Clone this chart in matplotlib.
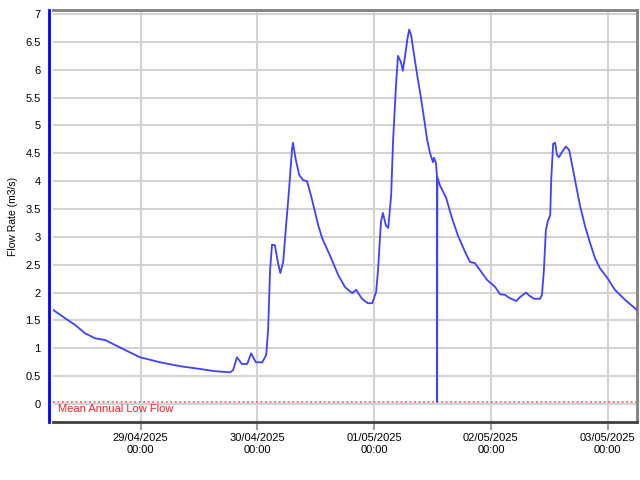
import matplotlib

matplotlib.use("Agg")
import matplotlib.dates as mdates
import matplotlib.pyplot as plt
import pandas as pd

START = pd.Timestamp("2025-04-28 06:00")
END = pd.Timestamp("2025-05-03 06:00")

# hours since START, flow rate (m3/s)
HOURS = [
    0.0, 2.47, 4.52, 6.58, 8.63, 10.69, 12.74, 14.8, 17.88, 21.99, 26.1, 30.2,
    33.3, 36.4, 37.0, 37.8, 38.8, 39.9, 40.7, 41.7, 43.0, 43.8, 44.2, 44.6,
    45.0, 45.6, 46.2, 46.7, 47.3, 47.9, 48.5, 49.1, 49.3, 49.9, 50.6, 51.4,
    52.2, 53.0, 54.5, 55.3, 56.9, 58.6, 60.0, 61.5, 62.3, 63.5, 64.7, 65.6,
    66.4, 66.8, 67.4, 67.8, 68.4, 68.9, 69.5, 69.9, 70.5, 70.9, 71.5, 71.9,
    72.4, 72.8, 73.2, 73.6, 74.2, 75.0, 75.6, 76.3, 76.9, 77.5, 78.1, 78.3,
    78.7, 78.9, 78.95, 79.0, 79.5, 80.8, 82.0, 83.2, 84.7, 85.7, 86.7, 87.8,
    89.2, 90.9, 91.9, 92.9, 93.9, 95.2, 96.0, 97.2, 98.0, 98.9, 100.1, 100.5,
    100.9, 101.3, 101.7, 102.2, 102.4, 102.8, 103.2, 103.6, 104.0, 104.6,
    105.4, 106.1, 106.7, 107.3, 108.3, 109.4, 110.4, 111.4, 112.4, 113.9,
    115.5, 117.6, 120.0,
]
FLOW = [
    1.69, 1.54, 1.42, 1.27, 1.18, 1.15, 1.06, 0.97, 0.84, 0.75, 0.68, 0.63,
    0.59, 0.57, 0.61, 0.84, 0.72, 0.72, 0.91, 0.75, 0.75, 0.88, 1.33, 2.40,
    2.86, 2.85, 2.55, 2.35, 2.55, 3.21, 3.84, 4.56, 4.69, 4.38, 4.11, 4.02,
    4.00, 3.75, 3.21, 2.98, 2.67, 2.32, 2.10, 1.99, 2.05, 1.89, 1.81, 1.81,
    2.01, 2.40, 3.27, 3.43, 3.21, 3.16, 3.75, 4.74, 5.73, 6.25, 6.14, 5.98,
    6.27, 6.53, 6.72, 6.62, 6.27, 5.82, 5.51, 5.10, 4.74, 4.50, 4.34, 4.42,
    4.33, 4.11, 0.04, 4.07, 3.93, 3.70, 3.34, 3.03, 2.73, 2.55, 2.53, 2.40,
    2.23, 2.10, 1.97, 1.96, 1.90, 1.85, 1.92, 2.00, 1.94, 1.89, 1.89, 1.96,
    2.40, 3.12, 3.28, 3.39, 4.02, 4.67, 4.69, 4.47, 4.43, 4.52, 4.62, 4.56,
    4.29, 4.02, 3.57, 3.18, 2.89, 2.62, 2.44, 2.27, 2.05, 1.87, 1.69,
]
MEAN_ANNUAL_LOW_FLOW = 0.04

Y_TICKS = [0, 0.5, 1, 1.5, 2, 2.5, 3, 3.5, 4, 4.5, 5, 5.5, 6, 6.5, 7]

plt.rcParams["font.family"] = ["Liberation Sans", "DejaVu Sans"]


def main() -> None:
    fig = plt.figure(figsize=(6.4, 4.8), dpi=100)
    ax = fig.add_axes([0.083, 0.121, 0.912, 0.858])

    times = [START + pd.Timedelta(hours=h) for h in HOURS]
    ax.plot(times, FLOW, color="#4040ff", linewidth=1.3, zorder=3)

    ax.axhline(MEAN_ANNUAL_LOW_FLOW, color="#ff6060", linewidth=1.3,
               linestyle=(0, (1, 1.5)), zorder=2)
    ax.text(0.008, -0.09, "Mean Annual Low Flow", color="#ff2020",
            fontsize=8, transform=ax.get_yaxis_transform(),
            va="center", ha="left")

    ax.set_xlim(START, END)
    ax.set_ylim(-0.32, 7.07)
    ax.set_yticks(Y_TICKS)
    ax.set_yticklabels([f"{v:g}" for v in Y_TICKS])

    ax.xaxis.set_major_locator(mdates.DayLocator())
    ax.xaxis.set_major_formatter(mdates.DateFormatter("%d/%m/%Y\n%H:%M"))

    ax.grid(True, color="#d3d3d3", linewidth=1.5, zorder=0)
    ax.set_axisbelow(True)

    ax.tick_params(axis="x", colors="#a0a0a0", length=6, width=1.5,
                   labelcolor="black", labelsize=8, pad=2)
    ax.tick_params(axis="y", length=0, labelsize=8, pad=6)

    ax.spines["left"].set_position(("outward", 3))
    ax.spines["left"].set_color("#0000ff")
    ax.spines["left"].set_linewidth(2)
    ax.spines["bottom"].set_color("#404040")
    ax.spines["bottom"].set_linewidth(2)
    for side in ("top", "right"):
        ax.spines[side].set_color("#808080")
        ax.spines[side].set_linewidth(2)

    ax.set_ylabel("Flow Rate (m3/s)", fontsize=7.5, labelpad=5)

    fig.savefig("out.png", dpi=100)
    plt.close(fig)


if __name__ == "__main__":
    main()
